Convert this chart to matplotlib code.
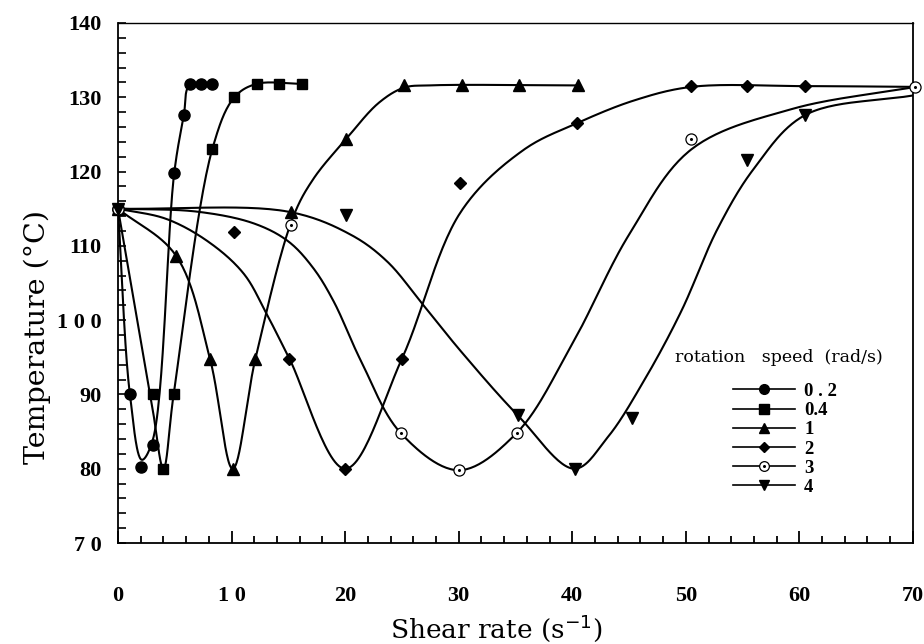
import numpy as np
import matplotlib
matplotlib.use('Agg')
import matplotlib.pyplot as plt
from matplotlib.lines import Line2D
from matplotlib.legend_handler import HandlerTuple

# measured points (shear rate, temperature) for each rotation speed
x_02 = [0, 1.05, 2.0, 3.05, 4.95, 5.8, 6.3, 7.3, 8.3]
y_02 = [115, 90, 80.2, 83.2, 119.8, 127.6, 131.8, 131.8, 131.8]
x_04 = [0, 3.05, 4.0, 4.9, 8.3, 10.25, 12.2, 14.2, 16.2]
y_04 = [115, 90, 80, 90, 123, 130, 131.8, 131.8, 131.8]
x_1 = [0, 5.1, 8.1, 10.1, 12.1, 15.2, 20.1, 25.2, 30.3, 35.3, 40.5]
y_1 = [115, 108.7, 94.8, 80, 94.8, 114.6, 124.4, 131.6, 131.6, 131.6, 131.6]
x_2 = [0, 10.2, 15.1, 20.0, 25.0, 30.1, 40.4, 50.5, 55.4, 60.5]
y_2 = [115, 111.8, 94.8, 80, 94.8, 118.5, 126.5, 131.5, 131.5, 131.5]
x_3 = [0, 15.2, 24.9, 30.0, 35.1, 50.5, 70.2]
y_3 = [115, 112.8, 84.8, 79.8, 84.8, 124.4, 131.4]
x_4 = [0, 20.1, 35.2, 40.2, 45.3, 55.4, 60.5]
y_4 = [115, 114.2, 87.2, 80, 86.8, 121.6, 127.6]

# hand-drawn trend curves, knots
cx_02 = [0, 1.05, 2.1, 3.05, 4.95, 5.8, 6.3, 8.3]
cy_02 = [115, 90, 81.2, 83.8, 119.8, 127.6, 131.6, 131.8]
cx_04 = [0, 3.0, 4.0, 4.9, 8.3, 10.25, 12.2, 16.2]
cy_04 = [115, 88.5, 80, 90, 123, 130, 131.8, 131.8]
cx_1 = [0, 5.1, 8.1, 10.1, 12.1, 15.4, 17.2, 20.1, 23.0, 25.2, 27.5, 40.5]
cy_1 = [115, 108.7, 94.8, 80, 94.8, 113.8, 119.0, 124.4, 129.3, 131.3, 131.6, 131.6]
cx_2 = [0, 4.3, 8.1, 11.1, 13.1, 15.1, 20.0, 25.0, 30.2, 35.7, 40.4, 45.5, 50.5, 60.5, 70.2]
cy_2 = [115, 113.6, 110.4, 106.2, 100.8, 94.8, 80, 94.8, 114.6, 122.9, 126.5, 129.6, 131.4, 131.5, 131.4]
cx_3 = [0, 7.0, 12.0, 15.0, 17.2, 19.0, 21.4, 24.9, 30.0, 35.1, 40.0, 45.0, 50.5, 59.3, 70.2]
cy_3 = [115, 114.6, 113.0, 110.6, 107.0, 102.5, 94.5, 84.8, 79.8, 84.8, 96.8, 111.5, 123.0, 128.4, 131.4]
cx_4 = [0, 15.0, 20.5, 23.7, 26.9, 30.2, 35.2, 40.2, 43.1, 46.3, 49.6, 52.8, 56.0, 60.5, 70.2]
cy_4 = [115, 114.6, 111.5, 107.9, 102.0, 95.8, 87.2, 80, 84.2, 91.8, 101.2, 112.3, 120.4, 127.6, 130.3]

speed_labels = ['0 . 2', '0.4', '1', '2', '3', '4']
xtick_vals = [0, 10, 20, 30, 40, 50, 60, 70]
xtick_text = ['0', '1 0', '20', '30', '40', '50', '60', '70']
ytick_vals = [70, 80, 90, 100, 110, 120, 130, 140]
ytick_text = ['7 0', '80', '90', '1 0 0', '110', '120', '130', '140']


def catmull_rom(ax, xs, ys, n=30):
    """Centripetal Catmull-Rom through knots, built in pixel space."""
    P = ax.transData.transform(np.column_stack([xs, ys]))
    P = np.vstack([2 * P[0] - P[1], P, 2 * P[-1] - P[-2]])
    out = []
    for i in range(1, len(P) - 2):
        p0, p1, p2, p3 = P[i - 1], P[i], P[i + 1], P[i + 2]
        t0 = 0.0
        t1 = t0 + np.linalg.norm(p1 - p0) ** 0.5
        t2 = t1 + np.linalg.norm(p2 - p1) ** 0.5
        t3 = t2 + np.linalg.norm(p3 - p2) ** 0.5
        t = np.linspace(t1, t2, n)[:, None]
        a1 = (t1 - t) / (t1 - t0) * p0 + (t - t0) / (t1 - t0) * p1
        a2 = (t2 - t) / (t2 - t1) * p1 + (t - t1) / (t2 - t1) * p2
        a3 = (t3 - t) / (t3 - t2) * p2 + (t - t2) / (t3 - t2) * p3
        b1 = (t2 - t) / (t2 - t0) * a1 + (t - t0) / (t2 - t0) * a2
        b2 = (t3 - t) / (t3 - t1) * a2 + (t - t1) / (t3 - t1) * a3
        c = (t2 - t) / (t2 - t1) * b1 + (t - t1) / (t2 - t1) * b2
        out.append(c)
    pts = ax.transData.inverted().transform(np.vstack(out))
    return pts[:, 0], pts[:, 1]


fig = plt.figure(figsize=(9.24, 6.44), dpi=100)
ax = fig.add_axes([0.1277, 0.1568, 0.8603, 0.8075])
ax.set_xlim(0, 70)
ax.set_ylim(70, 140)

curves = [(cx_02, cy_02), (cx_04, cy_04), (cx_1, cy_1),
          (cx_2, cy_2), (cx_3, cy_3), (cx_4, cy_4)]
for cx, cy in curves:
    sx, sy = catmull_rom(ax, cx, cy)
    ax.plot(sx, sy, color='black', lw=1.5, zorder=2)

mk = dict(color='black', ls='none', zorder=3, clip_on=False)
ax.plot(x_02, y_02, marker='o', ms=8, **mk)
ax.plot(x_04, y_04, marker='s', ms=7.5, **mk)
ax.plot(x_1, y_1, marker='^', ms=8.5, **mk)
ax.plot(x_2, y_2, marker='D', ms=6, **mk)
ax.plot(x_3, y_3, marker='o', ms=8, mfc='white', mec='black', mew=0.9, **mk)
ax.plot(x_3, y_3, marker='o', ms=1.2, **mk)
ax.plot(x_4, y_4, marker='v', ms=8.5, **mk)

# axes cosmetics, like the scanned original
for side in ['top', 'right', 'left', 'bottom']:
    ax.spines[side].set_linewidth(1.3)
ax.spines['top'].set_linewidth(1.0)
ax.set_xticks(xtick_vals)
ax.set_xticklabels(xtick_text)
ax.set_xticks(np.arange(0, 71, 2), minor=True)
ax.set_yticks(ytick_vals)
ax.set_yticklabels(ytick_text)
ax.set_yticks(np.arange(70, 141, 2), minor=True)
ax.tick_params(axis='x', which='major', direction='in', length=9, width=1.3, pad=31)
ax.tick_params(axis='x', which='minor', direction='in', length=5, width=1.3)
ax.tick_params(axis='y', which='both', direction='in', length=6, width=1.2, pad=12)
ax.tick_params(top=False, right=False, which='both')
for lab in ax.get_xticklabels() + ax.get_yticklabels():
    lab.set_fontfamily('Liberation Serif')
    lab.set_fontweight('bold')
    lab.set_fontsize(16)

ax.set_xlabel('Shear rate (s$^{\\mathsf{-1}}$)', fontsize=19, family='DejaVu Serif')
ax.xaxis.set_label_coords(0.4755, -0.163)
ax.xaxis.label.set_va('center')
ax.set_ylabel('Temperature (°C)', fontsize=20.5, family='DejaVu Serif')
ax.yaxis.set_label_coords(-0.102, 0.396)
ax.yaxis.label.set_va('center')

# legend: title as plain text, entries with line + marker
ax.text(0.7006, 0.356, 'rotation   speed  (rad/s)', transform=ax.transAxes,
        fontsize=12.5, family='DejaVu Serif', va='center', ha='left')
hl = dict(color='black', lw=1.2)
handles = [Line2D([], [], marker='o', ms=7, **hl),
           Line2D([], [], marker='s', ms=6.5, **hl),
           Line2D([], [], marker='^', ms=7, **hl),
           Line2D([], [], marker='D', ms=5, **hl),
           (Line2D([], [], marker='o', ms=7, mfc='white', mec='black', mew=0.9, **hl),
            Line2D([], [], marker='o', ms=1.2, ls='none', color='black')),
           Line2D([], [], marker='v', ms=7, **hl)]
leg = ax.legend(handles, speed_labels, loc='upper left', bbox_to_anchor=(0.7736, 0.308),
                frameon=False, borderpad=0, borderaxespad=0, handlelength=3.3,
                handletextpad=0.5, labelspacing=0.11, numpoints=1,
                handler_map={tuple: HandlerTuple(ndivide=1)},
                prop={'family': 'Liberation Serif', 'weight': 'bold', 'size': 13.5})

fig.savefig('out.png', dpi=100)
